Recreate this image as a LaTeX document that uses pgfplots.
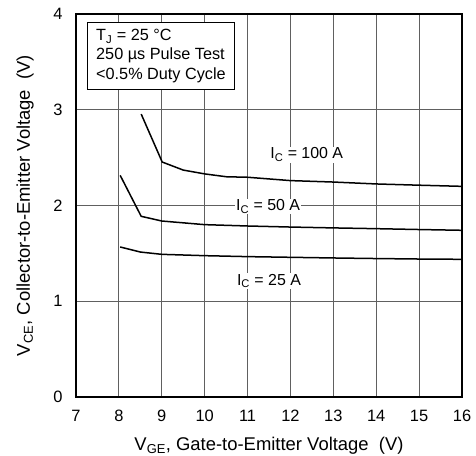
\documentclass[border=0pt]{standalone}
\usepackage{fontspec}
\setmainfont{Liberation Sans}
\usepackage{pgfplots}
\pgfplotsset{compat=1.18}
\begin{document}
\fontsize{16}{19}\selectfont
\begin{tikzpicture}
\useasboundingbox (-76bp,-59bp) rectangle (400bp,397bp);
\begin{axis}[
  scale only axis,
  width=386bp, height=383bp,
  xmin=7, xmax=16, ymin=0, ymax=4,
  xtick={7,...,16}, ytick={0,...,4},
  grid=major,
  major grid style={line width=0.8bp, gray!75!black},
  major tick length=0pt,
  axis line style={line width=2.6bp},
  /pgf/number format/assume math mode=true,
  tick label style={font=\fontsize{16.5}{19}\selectfont},
  xticklabel style={yshift=-8bp},
  yticklabel style={xshift=-8bp},
  every axis x label/.style={at={(axis description cs:0.5,0)}, anchor=center, yshift=-49bp},
  every axis y label/.style={at={(axis description cs:0,0.5)}, rotate=90, anchor=center, yshift=51bp},
  xlabel={V\textsubscript{GE}, Gate-to-Emitter Voltage\ \ (V)},
  ylabel={V\textsubscript{CE}, Collector-to-Emitter Voltage\ \ (V)},
  label style={font=\fontsize{18.5}{22}\selectfont},
  clip=false,
]
% I_C = 100 A
\addplot[black, line width=1.5bp] coordinates {
  (8.52,2.955) (9.01,2.454) (9.5,2.37) (10.0,2.33) (10.51,2.30) (11,2.295)
  (12,2.26) (13,2.245) (14,2.225) (15,2.212) (16,2.20)};
% I_C = 50 A
\addplot[black, line width=1.5bp] coordinates {
  (8.03,2.315) (8.52,1.887) (9,1.838) (10,1.80) (11,1.786)
  (12,1.775) (13,1.766) (14,1.758) (15,1.749) (16,1.741)};
% I_C = 25 A
\addplot[black, line width=1.5bp] coordinates {
  (8.03,1.567) (8.5,1.514) (9,1.49) (10,1.476) (11,1.466)
  (12,1.459) (13,1.452) (14,1.446) (15,1.441) (16,1.438)};
\node[fill=white, inner sep=1bp, font=\fontsize{16}{19}\selectfont] at (axis cs:12.38,2.53) {I\textsubscript{C} = 100 A};
\node[fill=white, inner sep=1bp, font=\fontsize{16}{19}\selectfont] at (axis cs:11.48,1.99) {I\textsubscript{C} = 50 A};
\node[fill=white, inner sep=1bp, font=\fontsize{16}{19}\selectfont] at (axis cs:11.5,1.21) {I\textsubscript{C} = 25 A};
\node[draw=black, line width=1bp, fill=white, anchor=north west, align=left,
      inner xsep=9bp, inner ysep=7bp, font=\fontsize{16.3}{19.5}\selectfont]
  at (axis cs:7.25,3.92)
  {T\textsubscript{J} = 25 °C\\250 µs Pulse Test\\<0.5\% Duty Cycle};
\end{axis}
\end{tikzpicture}
\end{document}
